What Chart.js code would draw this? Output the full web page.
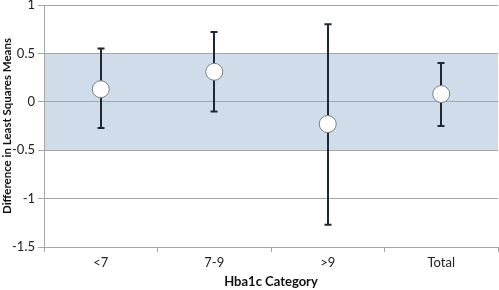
<!DOCTYPE html>
<html><head><meta charset="utf-8">
<script src="https://cdn.jsdelivr.net/npm/chart.js@4/dist/chart.umd.min.js"></script>
<style>html,body{margin:0;padding:0;background:#fff}#wrap{width:499px;height:290px}</style>
</head><body><div id="wrap"><canvas id="c"></canvas></div>
<script>
const categories = ["<7", "7-9", ">9", "Total"];
const means = [0.13, 0.31, -0.23, 0.08];
const upper = [0.55, 0.72, 0.80, 0.40];
const lower = [-0.27, -0.10, -1.27, -0.25];
const bandRange = [-0.5, 0.5];
const yTicks = [-1.5, -1, -0.5, 0, 0.5, 1];

const bandPlugin = {
  id: 'band',
  beforeDraw(chart) {
    const {ctx, chartArea, scales} = chart;
    const y = scales.y;
    const top = y.getPixelForValue(bandRange[1]);
    const bot = y.getPixelForValue(bandRange[0]);
    ctx.save();
    ctx.fillStyle = '#d0dcea';
    ctx.fillRect(chartArea.left, top, chartArea.right - chartArea.left, bot - top);
    ctx.restore();
  }
};
const errPlugin = {
  id: 'err',
  beforeDatasetsDraw(chart) {
    const {ctx, scales} = chart;
    const x = scales.x, y = scales.y;
    ctx.save();
    ctx.strokeStyle = '#1e2733';
    ctx.lineWidth = 2;
    categories.forEach((c, i) => {
      const px = Math.round(x.getPixelForValue(i));
      const pu = y.getPixelForValue(upper[i]);
      const pl = y.getPixelForValue(lower[i]);
      ctx.beginPath();
      ctx.moveTo(px, pu); ctx.lineTo(px, pl);
      ctx.moveTo(px - 3.5, pu); ctx.lineTo(px + 3.5, pu);
      ctx.moveTo(px - 3.5, pl); ctx.lineTo(px + 3.5, pl);
      ctx.stroke();
    });
    ctx.restore();
  }
};

new Chart(document.getElementById('c'), {
  type: 'line',
  data: {
    labels: categories,
    datasets: [{
      data: means,
      showLine: false,
      clip: false,
      pointRadius: 8.5,
      pointHoverRadius: 8.5,
      pointBackgroundColor: '#ffffff',
      pointBorderColor: '#7f7f7f',
      pointBorderWidth: 1
    }]
  },
  options: {
    responsive: true,
    maintainAspectRatio: false,
    animation: false,
    events: [],
    layout: { autoPadding: false, padding: { top: 0, right: 1, left: 0, bottom: 0 } },
    plugins: { legend: { display: false }, tooltip: { enabled: false } },
    scales: {
      x: {
        type: 'category',
        offset: true,
        grid: { offset: true, drawOnChartArea: false, color: '#a6a6a6', tickLength: 5 },
        border: { color: '#a6a6a6' },
        ticks: { color: '#222', font: { family: 'Lato', size: 13 }, padding: 3 },
        title: { display: true, text: 'Hba1c Category', color: '#111', font: { family: 'Lato', size: 13, weight: 'bold' }, padding: { top: 5, bottom: 0 } },
        afterFit(s) { s.height = 43; s.paddingLeft = 0; s.paddingRight = 0; }
      },
      y: {
        min: -1.5, max: 1,
        afterBuildTicks(s) { s.ticks = yTicks.map(v => ({ value: v })); },
        grid: { color: '#a6a6a6', tickLength: 6 },
        border: { color: '#a6a6a6' },
        ticks: { color: '#222', font: { family: 'Lato', size: 13 }, padding: 3, callback: v => String(v) },
        title: { display: true, text: 'Difference in Least Squares Means', color: '#111', font: { family: 'Lato', size: 11.5, weight: 'bold' }, padding: { top: 0, bottom: 2 } },
        afterFit(s) { s.width = 44; s.paddingTop = 5; s.paddingBottom = 0; }
      }
    }
  },
  plugins: [bandPlugin, errPlugin]
});
</script>
</body></html>
